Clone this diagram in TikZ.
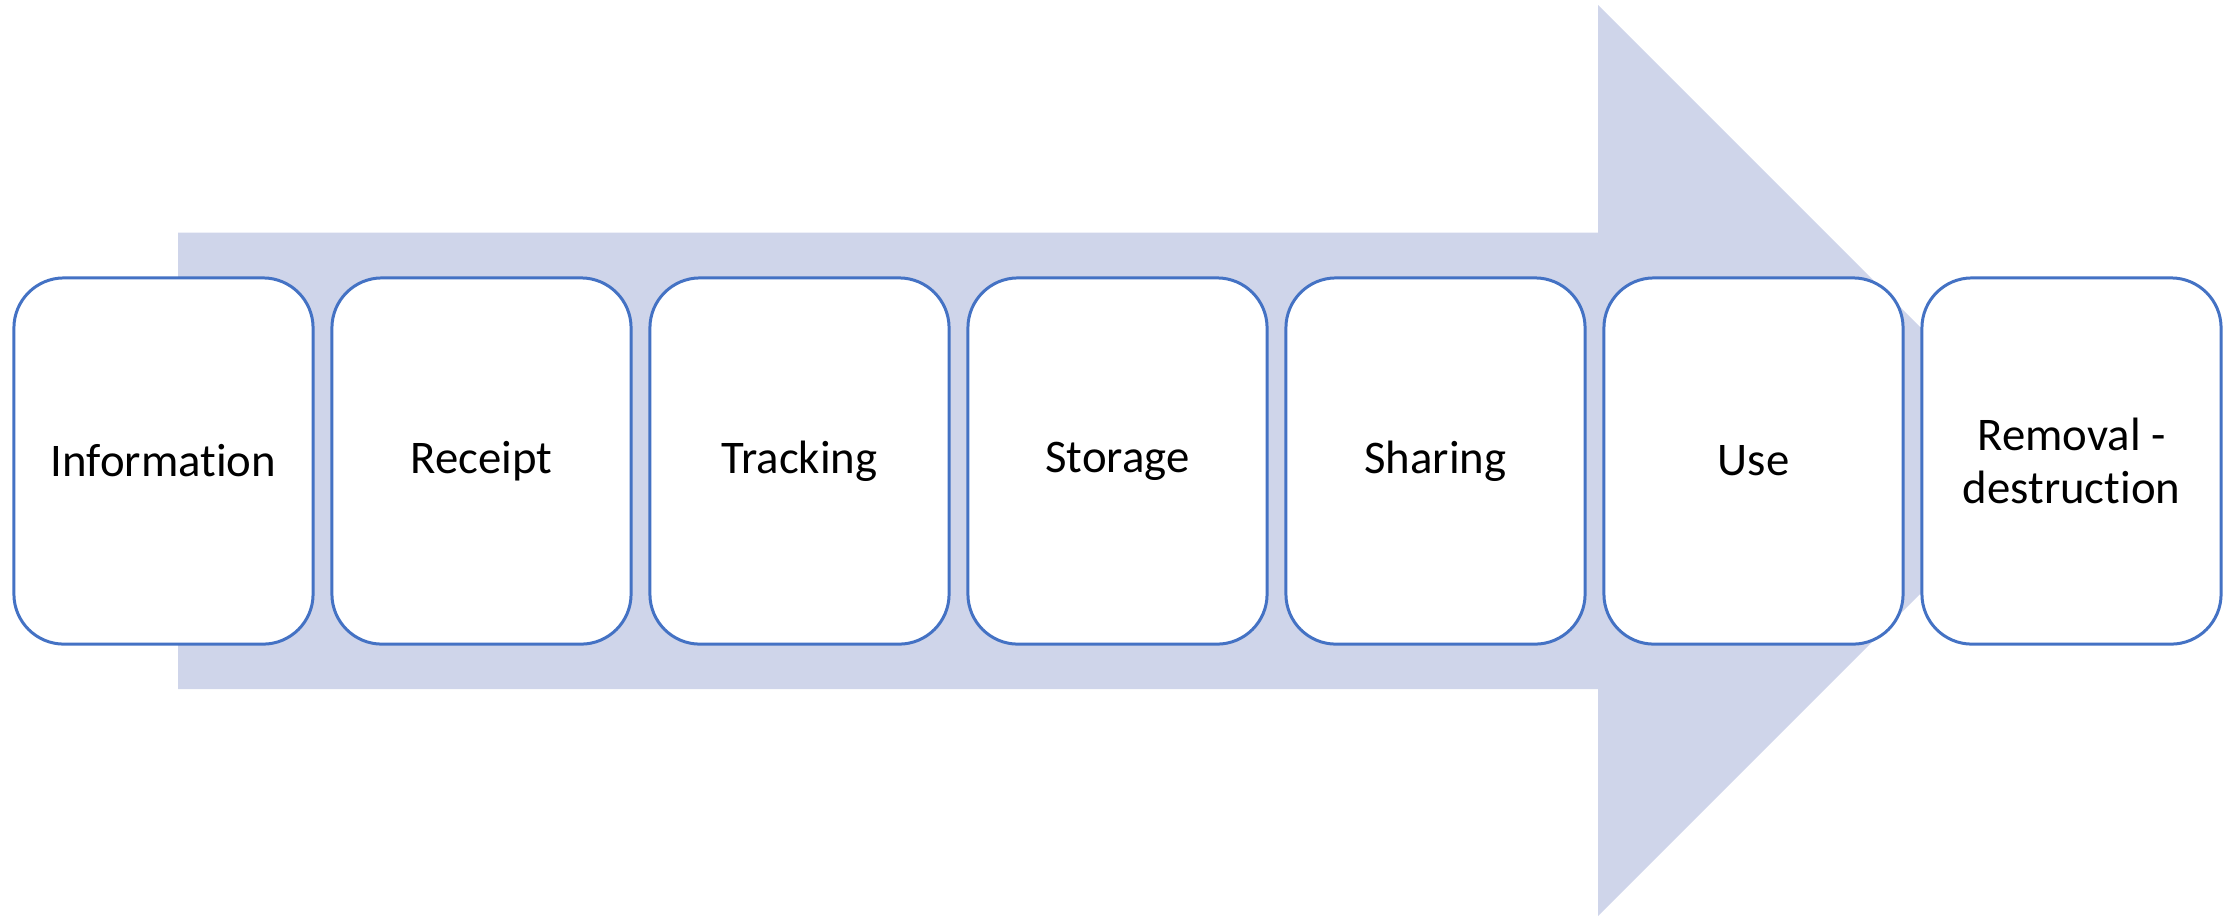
\documentclass[tikz,border=0pt]{standalone}
\usepackage{fontspec}
\setmainfont[Ligatures=CommonOff]{Carlito}
\begin{document}
\begin{tikzpicture}[x=0.01cm,y=-0.01cm,
  stepbox/.style={draw=boxblue, line width=0.85pt, fill=white, rounded corners=0.5cm,
    minimum width=2.99cm, minimum height=3.66cm, inner sep=0pt, align=center,
    font=\fontsize{13.3}{15.2}\selectfont, text=black},
]
\definecolor{boxblue}{HTML}{4472C4}
\definecolor{arrowfill}{HTML}{CFD5EA}
\useasboundingbox (0,0) rectangle (2233,917);
\fill[arrowfill] (178,232.5) -- (1598,232.5) -- (1598,5) -- (2053.5,460.5)
  -- (1598,916) -- (1598,689) -- (178,689) -- cycle;
\node[stepbox] (s1) at (163.5,461) {Information};
\node[stepbox] (s2) at (481.5,461) {Receipt};
\node[stepbox] (s3) at (799.5,461) {Tracking};
\node[stepbox] (s4) at (1117.5,461) {Storage};
\node[stepbox] (s5) at (1435.5,461) {Sharing};
\node[stepbox] (s6) at (1753.5,461) {Use};
\node[stepbox] (s7) at (2071.5,461) {Removal -\\destruction};
\end{tikzpicture}
\end{document}
